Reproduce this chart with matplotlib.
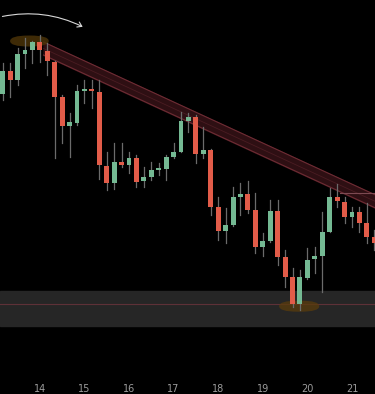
import matplotlib.pyplot as plt
from matplotlib.patches import Rectangle, FancyBboxPatch, FancyArrowPatch
import numpy as np

# 4h candles, prices in arbitrary chart units
opens = [306, 329, 320, 346, 350, 358, 349, 338, 303, 274,
         277, 309, 311, 308, 234, 217, 238, 235, 242, 219,
         223, 230.5, 231, 243, 248, 279, 283, 246, 250, 193,
         169, 175, 203, 206, 190, 153, 159, 189, 143, 123,
         96, 122, 141, 144, 168, 203, 198, 183, 188, 177, 163]
closes = [329, 320, 346, 350, 358, 350, 339, 303, 274, 278,
          309, 311, 309, 235, 217, 238, 235, 242, 218, 223,
          230, 231, 243, 248, 279, 283, 246, 250, 193, 169,
          175, 203, 206, 190, 153, 159, 189, 143, 123, 96,
          123, 140, 144, 168, 203, 199, 183, 188, 177, 163, 157]
highs = [337, 337, 352, 362, 359, 365, 357, 339, 305, 287,
         315, 320, 320, 320, 248, 257, 257, 248, 245, 233,
         238, 237, 245, 257, 288, 287, 285, 273, 251, 203,
         192, 213, 217, 219, 207, 167, 200, 200, 150, 132,
         130, 152, 153, 188, 212, 216, 203, 193, 193, 197, 170]
lows = [300, 303, 315, 332, 337, 338, 325, 242, 257, 243,
        275, 297, 292, 221, 210, 211, 233, 227, 213, 213,
        220, 225, 220, 242, 248, 268, 237, 242, 185, 160,
        157, 174, 185, 187, 147, 144, 158, 135, 113, 93,
        90, 121, 127, 108, 168, 193, 177, 173, 168, 157, 150]

day_labels = ["14", "15", "16", "17", "18", "19", "20", "21"]
day_start = 5
per_day = 6

# descending resistance channel
trend_x = [5.5, 50.5]
trend_top = [358, 204]
channel_width = 13
flip_level = 207
flip_start = 45.4

# support zone
zone_low, zone_high = 74, 109
zone_line = 96

bg = "#000000"
green = "#74b993"
red = "#e25c49"
wick = "#6b6b6b"

fig = plt.figure(figsize=(3.75, 3.94), dpi=100, facecolor=bg)
ax = fig.add_axes([0, 0.04, 1, 0.96])
ax.set_facecolor(bg)

# zone
ax.axhspan(zone_low, zone_high, color="#262626", zorder=0)
ax.axhline(zone_line, color="#5e3138", lw=0.8, zorder=1)

# channel
tx = np.array(trend_x)
tt = np.array(trend_top)
ax.fill_between(tx, tt, tt - channel_width, color="#2e0f13", zorder=1)
ax.plot(tx, tt, color="#6e2c34", lw=0.8, zorder=2)
ax.plot(tx, tt - channel_width, color="#6e2c34", lw=0.8, zorder=2)
ax.plot(tx, tt - channel_width / 2, color="#4a1c22", lw=0.6, zorder=2)
ax.plot([flip_start, 51], [flip_level, flip_level], color="#7d4a52", lw=0.8, zorder=2)

# highlighted swing high / low (behind candles)
ax.add_patch(FancyBboxPatch((1.0, 353.5), 5.2, 11, boxstyle="round,pad=0,rounding_size=2.5",
                            facecolor="#4a3208", edgecolor="none", alpha=0.85,
                            mutation_aspect=2.2, zorder=2.5))
ax.add_patch(FancyBboxPatch((37.2, 88.5), 5.4, 11, boxstyle="round,pad=0,rounding_size=2.5",
                            facecolor="#5a3c0c", edgecolor="none", alpha=0.75,
                            mutation_aspect=2.2, zorder=2.5))

# candles
w = 0.66
for i in range(len(opens)):
    o, c, h, l = opens[i], closes[i], highs[i], lows[i]
    col = green if c >= o else red
    ax.plot([i, i], [l, h], color=wick, lw=0.9, zorder=3)
    bottom = min(o, c)
    height = max(abs(c - o), 1.2)
    ax.add_patch(Rectangle((i - w / 2, bottom), w, height, facecolor=col,
                           edgecolor="none", zorder=4))

# arrow
arr = FancyArrowPatch((-0.4, 383), (11.1, 372), arrowstyle="->,head_length=3,head_width=2",
                      connectionstyle="arc3,rad=-0.18", color="#d8d8d8", lw=0.8, zorder=6)
ax.add_patch(arr)

ax.set_xlim(-0.36, 50.1)
ax.set_ylim(22, 400)
ticks = [day_start + per_day * k for k in range(len(day_labels))]
ax.set_xticks(ticks)
ax.set_xticklabels(day_labels, color="#9c9c9c", fontsize=7)
ax.tick_params(axis="x", length=0, pad=4)
ax.set_yticks([])
for s in ax.spines.values():
    s.set_visible(False)

fig.savefig("out.png", dpi=100, facecolor=bg)
